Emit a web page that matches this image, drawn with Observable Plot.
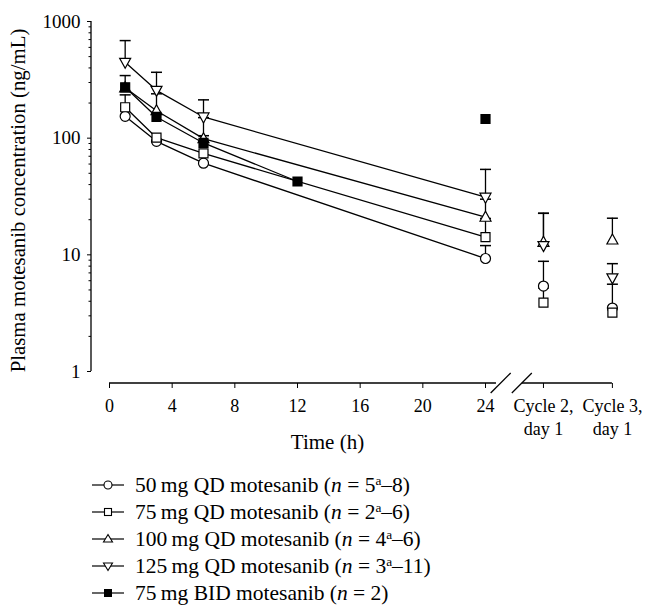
<!DOCTYPE html>
<html>
<head>
<meta charset="utf-8">
<script src="https://cdn.jsdelivr.net/npm/d3@7"></script>
<script src="https://cdn.jsdelivr.net/npm/@observablehq/plot@0.6"></script>
<style>
  html, body { margin: 0; padding: 0; background: #fff; }
  body { width: 648px; height: 606px; position: relative; overflow: hidden; font-family: "Liberation Serif", "Times New Roman", serif; color: #000; }
  #chart { position: absolute; left: 0; top: 0; }
  .row { position: absolute; left: 92px; height: 27px; line-height: 27px; font-size: 21.5px; white-space: nowrap; display: flex; align-items: center; }
  .row svg { width: 32px; height: 14px; margin-right: 11px; flex: none; }
  .row sup { font-size: 0.62em; line-height: 0; vertical-align: 0.55em; }
</style>
</head>
<body>
<div id="chart"></div>
<div id="legend"></div>
<script>
// ---- data ----
const seriesNames = ["50 mg QD", "75 mg QD", "100 mg QD", "125 mg QD", "75 mg BID"];
const legendLabels = [
  '50\u2009mg QD motesanib (<i>n</i> = 5<sup>a</sup>–8)',
  '75\u2009mg QD motesanib (<i>n</i> = 2<sup>a</sup>–6)',
  '100\u2009mg QD motesanib (<i>n</i> = 4<sup>a</sup>–6)',
  '125\u2009mg QD motesanib (<i>n</i> = 3<sup>a</sup>–11)',
  '75\u2009mg BID motesanib (<i>n</i> = 2)'
];
const symbolsBySeries = ["circle", "square", "triangleUp", "triangleDown", "squareFilled"];
const yLabel = "Plasma motesanib concentration (ng/mL)";
const xLabel = "Time (h)";

const qdHours = [1, 3, 6, 24];
const bidHours = [1, 3, 6, 12, 24];
const bidConnected = [true, true, true, true, false];

const conc50 = [154, 94, 61, 9.3];
const conc75 = [184, 101, 74, 14.2];
const conc100 = [270, 172, 99, 21.0];
const conc125 = [447, 257, 152, 31.2];
const concBid = [273, 152, 91, 42.5, 146];

// mean + SD (upper whisker); null = none visible
const upper50 = [null, null, null, 12.0];
const upper75 = [235, null, null, 20.5];
const upper100 = [344, 240, 150, 30];
const upper125 = [686, 367, 213, 54];
const upperBid = [null, null, 105, null, null];

// Cycle 2 day 1, Cycle 3 day 1
const cycleLabels = ["Cycle 2,\nday 1", "Cycle 3,\nday 1"];
const cyclePositions = [27.7, 32.1];   // position on the broken time axis
const cycle50 = [5.4, 3.5];
const cycle75 = [3.9, 3.2];
const cycle100 = [12.8, 13.4];
const cycle125 = [12.0, 6.35];
const upperCycle50 = [8.8, 5.6];
const upperCycle75 = [5.2, null];
const upperCycle100 = [22.7, 20.6];
const upperCycle125 = [22.7, 8.4];

const hourTicks = [0, 4, 8, 12, 16, 20, 24];
const yTicks = [1, 10, 100, 1000];
const yMinorTicks = [2,3,4,5,6,7,8,9,20,30,40,50,60,70,80,90,200,300,400,500,600,700,800,900];
const axisBreak = [24.7, 25.0, 26.35, 26.35]; // left segment end, slash 1, slash 2, right segment start

// ---- build tables ----
const qdSeries = [
  {name: seriesNames[0], conc: conc50, upper: upper50, cyc: cycle50, cycUp: upperCycle50, sym: symbolsBySeries[0]},
  {name: seriesNames[1], conc: conc75, upper: upper75, cyc: cycle75, cycUp: upperCycle75, sym: symbolsBySeries[1]},
  {name: seriesNames[2], conc: conc100, upper: upper100, cyc: cycle100, cycUp: upperCycle100, sym: symbolsBySeries[2]},
  {name: seriesNames[3], conc: conc125, upper: upper125, cyc: cycle125, cycUp: upperCycle125, sym: symbolsBySeries[3]}
];
const points = [];
for (const s of qdSeries) {
  qdHours.forEach((h, i) => points.push({series: s.name, sym: s.sym, x: h, y: s.conc[i], up: s.upper[i], line: true}));
  cyclePositions.forEach((c, i) => points.push({series: s.name, sym: s.sym, x: c, y: s.cyc[i], up: s.cycUp[i], line: false}));
}
bidHours.forEach((h, i) => points.push({series: seriesNames[4], sym: symbolsBySeries[4], x: h, y: concBid[i], up: upperBid[i], line: bidConnected[i]}));
const linePts = points.filter(d => d.line);
const errPts = points.filter(d => d.up != null);

// ---- custom symbols ----
const sym = {
  circle: {draw(c) { c.moveTo(5, 0); c.arc(0, 0, 5, 0, 2 * Math.PI); }},
  square: {draw(c) { c.rect(-4.5, -4.5, 9, 9); }},
  squareFilled: {draw(c) { c.rect(-4.5, -4.5, 9, 9); }},
  triangleUp: {draw(c) { c.moveTo(0, -6); c.lineTo(5.5, 4); c.lineTo(-5.5, 4); c.closePath(); }},
  triangleDown: {draw(c) { c.moveTo(0, 6); c.lineTo(5.5, -4); c.lineTo(-5.5, -4); c.closePath(); }},
  cap: {draw(c) { c.moveTo(-5.5, 0); c.lineTo(5.5, 0); }}
};

const xTickValues = [...hourTicks, ...cyclePositions];
const xTickText = new Map([...hourTicks.map(h => [h, String(h)]), ...cyclePositions.map((c, i) => [c, cycleLabels[i]])]);

// axis lines with break (positions from scales)
function axisLines(index, scales, values, dimensions) {
  const g = d3.create("svg:g").attr("fill", "none").attr("stroke", "black").attr("stroke-width", 1.3);
  const yb = dimensions.height - dimensions.marginBottom;
  const x = scales.x, y = scales.y;
  g.append("line").attr("x1", dimensions.marginLeft).attr("x2", dimensions.marginLeft)
    .attr("y1", y(yTicks[0])).attr("y2", y(yTicks[yTicks.length - 1]));
  g.append("line").attr("x1", x(hourTicks[0])).attr("x2", x(axisBreak[0])).attr("y1", yb).attr("y2", yb);
  g.append("line").attr("x1", x(axisBreak[3])).attr("x2", x(cyclePositions[cyclePositions.length - 1])).attr("y1", yb).attr("y2", yb);
  for (const b of [axisBreak[1], axisBreak[2]]) {
    g.append("line").attr("x1", x(b) - 10).attr("x2", x(b) + 10).attr("y1", yb + 10).attr("y2", yb - 10);
  }
  return g.node();
}

const marks = [
  Plot.axisY({ticks: yTicks, tickFormat: d => String(d), tickSize: 4, tickPadding: 7, fontSize: 19, label: null}),
  Plot.axisY({ticks: yMinorTicks, tickSize: 2.5, tickFormat: () => "", label: null}),
  Plot.axisX({ticks: xTickValues, tickFormat: d => xTickText.get(d), tickSize: 5, tickPadding: 8, fontSize: 18, lineHeight: 1.25, label: null}),
  Plot.text([yLabel], {text: d => d, frameAnchor: "left", textAnchor: "middle", lineAnchor: "middle", rotate: -90, dx: -73, dy: -2, fontSize: 20.8}),
  Plot.text([xLabel], {text: d => d, frameAnchor: "bottom", textAnchor: "middle", lineAnchor: "middle", dy: 59, fontSize: 21}),
  axisLines,
  Plot.line(linePts, {x: "x", y: "y", z: "series", stroke: "black", strokeWidth: 1.3}),
  Plot.ruleX(errPts, {x: "x", y1: "y", y2: "up", stroke: "black", strokeWidth: 1.3}),
  Plot.dot(errPts, {x: "x", y: "up", symbol: sym.cap, r: 5, fill: "none", stroke: "black", strokeWidth: 1.5})
];
for (const key of ["circle", "square", "triangleUp", "triangleDown", "squareFilled"]) {
  marks.push(Plot.dot(points.filter(d => d.sym === key), {
    x: "x", y: "y", symbol: sym[key], r: 5,
    fill: key === "squareFilled" ? "black" : "white", stroke: "black", strokeWidth: 1.2
  }));
}

const chart = Plot.plot({
  width: 648, height: 455,
  marginLeft: 91, marginTop: 21, marginBottom: 72, marginRight: 85,
  style: {fontFamily: '"Liberation Serif", "Times New Roman", serif', fontSize: "20px", background: "white", color: "black", overflow: "visible"},
  x: {domain: [0, 24], range: [109, 485]},
  y: {type: "log", domain: [1, 1000], range: [371, 21]},
  marks
});
document.getElementById("chart").append(chart);

// ---- legend ----
const legendSvg = {
  circle: '<circle cx="16" cy="7" r="4" fill="white" stroke="black" stroke-width="1.1"/>',
  square: '<rect x="12.5" y="3.5" width="7" height="7" fill="white" stroke="black" stroke-width="1.1"/>',
  triangleUp: '<path d="M16,2.5L20.5,10H11.5Z" fill="white" stroke="black" stroke-width="1.1"/>',
  triangleDown: '<path d="M16,11.5L20.5,4H11.5Z" fill="white" stroke="black" stroke-width="1.1"/>',
  squareFilled: '<rect x="12" y="3" width="8" height="8" fill="black"/>'
};
const legend = document.getElementById("legend");
legendLabels.forEach((lab, i) => {
  const row = document.createElement("div");
  row.className = "row";
  row.style.top = (471.5 + 27 * i) + "px";
  row.innerHTML = '<svg viewBox="0 0 32 14"><line x1="0" x2="32" y1="7" y2="7" stroke="black" stroke-width="1.2"/>' +
    legendSvg[symbolsBySeries[i]] + '</svg><span>' + lab + '</span>';
  legend.append(row);
});
</script>
</body>
</html>
